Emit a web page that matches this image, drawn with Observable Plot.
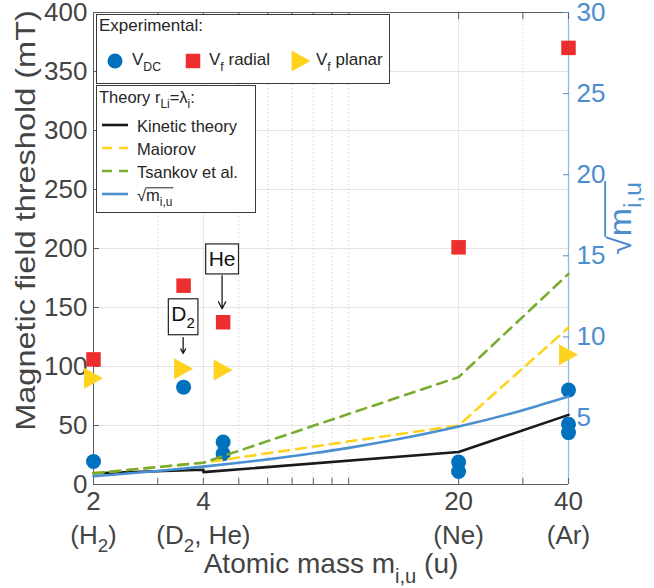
<!DOCTYPE html>
<html>
<head>
<meta charset="utf-8">
<script src="https://cdn.jsdelivr.net/npm/d3@7"></script>
<script src="https://cdn.jsdelivr.net/npm/@observablehq/plot@0.6"></script>
<style>
  body { margin: 0; background: #fff; }
  #wrap { position: relative; width: 654px; height: 588px; }
</style>
</head>
<body>
<div id="wrap"></div>
<script>
// ---- axis ticks and labels ----
const massTicks = [2, 4, 20, 40];
const massNames = ["(H_{2})", "(D_{2}, He)", "(Ne)", "(Ar)"];
const minorMass = [3, 5, 6, 7, 8, 9, 10, 30];
const fieldTicks = [0, 50, 100, 150, 200, 250, 300, 350, 400];
const rootTicks = [5, 10, 15, 20, 25, 30];
const rootRange = [0.9, 30];

// ---- experimental thresholds (mT); D2 and He are drawn either side of m = 4 ----
const dcMass = [2, 3.53, 4.53, 4.53, 20, 20, 40, 40, 40];
const dcField = [19.5, 82.5, 36, 26, 19, 11, 80, 51, 44];
const radialMass = [2, 3.53, 4.53, 20, 40];
const radialField = [106, 168.5, 137.5, 201, 370];
const planarMass = [2, 3.53, 4.53, 40];
const planarField = [90, 98, 97, 110];

// ---- theory, r_Li = lambda_i ----
const kineticMass = [2, 4, 4, 20, 40];
const kineticField = [9.5, 12.5, 10.5, 27.5, 59];
const theoryMass = [2, 4, 20, 40];
const maiorovField = [9.5, 18.5, 50, 133];
const tsankovField = [9.5, 18.5, 91, 178.5];
const rootMass = [2, 3, 4, 5, 6, 8, 10, 15, 20, 30, 40];
const rootValue = [1.41, 1.73, 2.0, 2.24, 2.45, 2.83, 3.16, 3.87, 4.47, 5.48, 6.32];

// ---- callouts ----
const calloutLabel = ["D_{2}", "He"];
const calloutMass = [3.52, 4.5];
const calloutTextField = [144, 190.5];
const calloutFrom = [124.5, 177];
const calloutTo = [111, 149];

// ---- legend entries ----
const expLabels = ["V_{DC}", "V_{f} radial", "V_{f} planar"];
const theoryTitle = "Theory r_{Li}=λ_{i}:";
const theoryLabels = ["Kinetic theory", "Maiorov", "Tsankov et al.", "√m_{i,u}"];
const fieldTitle = "Magnetic field threshold (mT)";
const massTitle = "Atomic mass m_{i,u} (u)";
const rootTitle = "√m_{i,u}";

const FONT = "'Liberation Sans', Arial, Helvetica, sans-serif";
const ink = "#444444";
const frameGray = "#5c5c5c";
const rootBlue = "#4b8dce";
const rootAxis = "#94b9e0";
const cBlue = "#0072BD", cRed = "#ED2E2E", cYellow = "#FFD21E", cGreen = "#77AC30", cBlack = "#1a1a1a", cLine = "#4a8fd1";
const dash = "10,7";

// right axis units mapped onto the left (mT) scale
const rootToField = d3.scaleLinear(rootRange, [0, 400]);

const zip = (xs, ys) => xs.map((x, i) => ({x, y: ys[i]}));
const dcRows = zip(dcMass, dcField);
const radialRows = zip(radialMass, radialField);
const planarRows = zip(planarMass, planarField);
const kineticRows = zip(kineticMass, kineticField);
const maiorovRows = zip(theoryMass, maiorovField);
const tsankovRows = zip(theoryMass, tsankovField);
const rootRows = zip(rootMass, rootValue);
const callouts = calloutLabel.map((label, i) => ({
  label, x: calloutMass[i], yText: calloutTextField[i], y1: calloutFrom[i], y2: calloutTo[i]
}));

// marker shapes
const squareSym = {draw(ctx, size) { const r = Math.sqrt(size / Math.PI); ctx.rect(-r, -r, 2 * r, 2 * r); }};
const rightTriSym = {draw(ctx, size) {
  const r = Math.sqrt(size / Math.PI), w = r * 0.9;
  ctx.moveTo(-w, -r); ctx.lineTo(w, 0); ctx.lineTo(-w, r); ctx.closePath();
}};

const plot = Plot.plot({
  width: 654, height: 588,
  marginLeft: 93, marginRight: 86, marginTop: 12, marginBottom: 104,
  style: {fontFamily: FONT, background: "#fff", overflow: "visible"},
  x: {type: "log", domain: [2, 40], axis: null},
  y: {domain: [0, 400], axis: null},
  marks: [
    Plot.gridY(fieldTicks, {stroke: "#e4e4e4", strokeOpacity: 1}),
    Plot.gridX(massTicks, {stroke: "#e4e4e4", strokeOpacity: 1}),
    Plot.gridX(minorMass, {stroke: "#d6d6d6", strokeOpacity: 1, strokeDasharray: "1.5,2.5"}),

    // box
    Plot.ruleY([0, 400], {stroke: frameGray}),
    Plot.ruleX([2], {stroke: frameGray}),
    Plot.ruleX([40], {stroke: rootAxis, strokeWidth: 1.3}),

    // inward ticks
    Plot.axisY(fieldTicks, {anchor: "left", tickSize: -6, tickFormat: () => "", stroke: frameGray, label: null}),
    Plot.axisY(rootTicks, {anchor: "right", y: rootToField, tickSize: -6, tickFormat: () => "", stroke: rootBlue, label: null}),
    Plot.axisX(massTicks.concat(minorMass), {anchor: "bottom", tickSize: -6, tickFormat: () => "", stroke: frameGray, label: null}),
    Plot.axisX(massTicks.concat(minorMass), {anchor: "top", tickSize: -6, tickFormat: () => "", stroke: frameGray, label: null}),

    // tick labels
    Plot.axisY(fieldTicks, {anchor: "left", tickSize: 0, tickPadding: 6, fontSize: 26, color: ink, label: null}),
    Plot.axisY(rootTicks, {anchor: "right", y: rootToField, tickSize: 0, tickPadding: 8, fontSize: 26, color: rootBlue, label: null, tickFormat: (d) => String(d)}),
    Plot.axisX(massTicks, {anchor: "bottom", tickSize: 0, tickPadding: 7, fontSize: 26, color: ink, label: null, tickFormat: (d) => String(d)}),
    Plot.text(massTicks, {x: (d) => d, frameAnchor: "bottom", lineAnchor: "middle", dy: 51, text: (d, i) => massNames[i], fontSize: 26, fill: ink}),

    // axis titles
    Plot.text([massTitle], {frameAnchor: "bottom", lineAnchor: "middle", dy: 80, text: (d) => d, fontSize: 28, fill: ink}),
    Plot.text([fieldTitle], {frameAnchor: "left", textAnchor: "middle", lineAnchor: "middle", dx: -67, dy: -28, rotate: -90, text: (d) => d, fontSize: 28, fill: ink}),
    Plot.text([rootTitle], {frameAnchor: "right", textAnchor: "middle", lineAnchor: "middle", dx: 52, dy: -30, rotate: -90, text: (d) => d, fontSize: 32, fill: rootBlue}),

    // experimental points
    Plot.dot(dcRows, {x: "x", y: "y", r: 7.5, fill: cBlue}),
    Plot.dot(radialRows, {x: "x", y: "y", r: 7.25, symbol: squareSym, fill: cRed}),
    Plot.dot(planarRows, {x: "x", y: "y", r: 10.5, symbol: rightTriSym, fill: cYellow}),

    // theory curves
    Plot.line(kineticRows, {x: "x", y: "y", stroke: cBlack, strokeWidth: 2.6}),
    Plot.line(maiorovRows, {x: "x", y: "y", stroke: cYellow, strokeWidth: 2.6, strokeDasharray: dash}),
    Plot.line(tsankovRows, {x: "x", y: "y", stroke: cGreen, strokeWidth: 2.6, strokeDasharray: dash}),
    Plot.line(rootRows, {x: "x", y: (d) => rootToField(d.y), stroke: cLine, strokeWidth: 2.6, curve: "monotone-x"}),

    // callouts
    Plot.arrow(callouts, {x1: "x", x2: "x", y1: "y1", y2: "y2", stroke: cBlack, strokeWidth: 1.3, headLength: 9, headAngle: 55}),
    Plot.text(callouts, {x: "x", y: "yText", text: "label", fontSize: 21, fill: "#111"})
  ]
});

const wrap = document.getElementById("wrap");
wrap.appendChild(plot);

const svgNS = "http://www.w3.org/2000/svg";
const plain = (s) => s.replace(/_\{([^}]*)\}/g, "$1");

// "a_{b}" markup → lowered, smaller tspans
function setRich(el, markup, size) {
  el.textContent = "";
  const parts = markup.split(/(_\{[^}]*\})/).filter(Boolean);
  const shift = size * 0.33;
  let down = false;
  for (const p of parts) {
    const t = document.createElementNS(svgNS, "tspan");
    if (p.startsWith("_{")) {
      t.textContent = p.slice(2, -1);
      t.setAttribute("font-size", size * 0.72);
      if (!down) t.setAttribute("dy", shift);
      down = true;
    } else {
      t.textContent = p;
      if (down) t.setAttribute("dy", -shift);
      down = false;
    }
    el.appendChild(t);
  }
}

// bar over everything after the radical sign
function addVinculum(t, size, color) {
  const n = t.getNumberOfChars();
  const a = t.getEndPositionOfChar(0);
  const e = t.getEndPositionOfChar(n - 1);
  const y = a.y - size * 0.8;
  const line = document.createElementNS(svgNS, "line");
  line.setAttribute("x1", a.x - 0.5);
  line.setAttribute("x2", e.x + 1);
  line.setAttribute("y1", y);
  line.setAttribute("y2", y);
  line.setAttribute("stroke", color);
  line.setAttribute("stroke-width", Math.max(1, size * 0.06));
  const tr = t.getAttribute("transform");
  if (tr) line.setAttribute("transform", tr);
  t.parentNode.appendChild(line);
}

// the rotated titles are set a little wider than their natural length
function stretch(t, factor) {
  const len = t.getComputedTextLength();
  t.setAttribute("textLength", len * factor);
  t.setAttribute("lengthAdjust", "spacingAndGlyphs");
}

const calloutTexts = [];
let rootText = null, fieldText = null;
plot.querySelectorAll("text").forEach((t) => {
  const s = t.textContent;
  if (s === fieldTitle) fieldText = t;
  if (s.includes("_{")) {
    const size = parseFloat(getComputedStyle(t).fontSize);
    if (calloutLabel.includes(s)) calloutTexts.push(t);
    if (s === rootTitle) rootText = t;
    setRich(t, s, size);
  } else if (calloutLabel.includes(s)) {
    calloutTexts.push(t);
  }
});

if (fieldText) stretch(fieldText, 1.16);
if (rootText) {
  stretch(rootText, 1.06);
  addVinculum(rootText, parseFloat(getComputedStyle(rootText).fontSize), rootBlue);
}

calloutTexts.forEach((t) => {
  const b = t.getBBox();
  const r = document.createElementNS(svgNS, "rect");
  r.setAttribute("x", b.x - 3);
  r.setAttribute("y", b.y - 3.5);
  r.setAttribute("width", b.width + 6);
  r.setAttribute("height", b.height + 7);
  r.setAttribute("fill", "#fff");
  r.setAttribute("stroke", "#222");
  r.setAttribute("stroke-width", 1.2);
  const tr = t.getAttribute("transform");
  if (tr) r.setAttribute("transform", tr);
  t.parentNode.insertBefore(r, t);
});

// ---- legends ----
const legend = d3.select(wrap).append("svg")
  .attr("width", 654).attr("height", 588)
  .style("position", "absolute").style("left", "0").style("top", "0")
  .attr("font-family", FONT).attr("fill", "#262626");

// experimental
const L1 = {x: 96.5, y: 14.5, w: 293, h: 69, size: 17};
legend.append("rect").attr("x", L1.x).attr("y", L1.y).attr("width", L1.w).attr("height", L1.h)
  .attr("fill", "#fff").attr("stroke", "#3a3a3a");
legend.append("text").attr("x", 99).attr("y", 31).attr("font-size", L1.size).text("Experimental:");
const expSwatchX = [115, 193, 301];
const expTextX = [132, 209, 316];
const swatchY = 61;
const symPath = (sym, r) => { const p = d3.path(); sym.draw(p, r * r * Math.PI); return p.toString(); };
legend.append("circle").attr("cx", expSwatchX[0]).attr("cy", swatchY).attr("r", 7.5).attr("fill", cBlue);
legend.append("path").attr("transform", `translate(${expSwatchX[1]},${swatchY})`).attr("d", symPath(squareSym, 7.25)).attr("fill", cRed);
legend.append("path").attr("transform", `translate(${expSwatchX[2]},${swatchY})`).attr("d", symPath(rightTriSym, 10.5)).attr("fill", cYellow);
expLabels.forEach((lab, i) => {
  const t = legend.append("text").attr("x", expTextX[i]).attr("y", 65).attr("font-size", L1.size).node();
  setRich(t, lab, L1.size);
});

// theory
const L2 = {x: 96.5, y: 85.5, w: 159, h: 127, size: 16.5};
legend.append("rect").attr("x", L2.x).attr("y", L2.y).attr("width", L2.w).attr("height", L2.h)
  .attr("fill", "#fff").attr("stroke", "#3a3a3a");
const tt = legend.append("text").attr("x", 99).attr("y", 103).attr("font-size", L2.size).node();
setRich(tt, theoryTitle, L2.size);
const rowY = [125, 148, 171, 194];
const rowStroke = [cBlack, cYellow, cGreen, cLine];
const rowDash = [null, dash, dash, null];
theoryLabels.forEach((lab, i) => {
  legend.append("line").attr("x1", 102).attr("x2", 128).attr("y1", rowY[i]).attr("y2", rowY[i])
    .attr("stroke", rowStroke[i]).attr("stroke-width", 2.6).attr("stroke-dasharray", rowDash[i]);
  const t = legend.append("text").attr("x", 137).attr("y", rowY[i] + 7).attr("font-size", L2.size).node();
  setRich(t, lab, L2.size);
  if (lab.startsWith("√")) addVinculum(t, L2.size, "#262626");
});
</script>
</body>
</html>
